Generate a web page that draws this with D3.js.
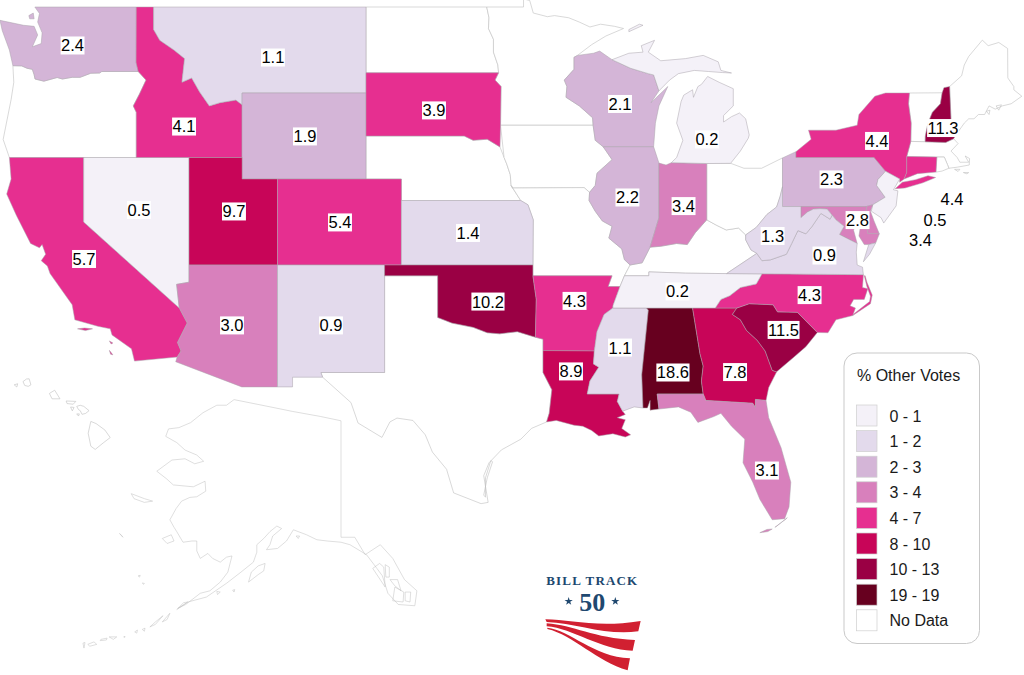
<!DOCTYPE html>
<html><head><meta charset="utf-8">
<script src="https://cdn.jsdelivr.net/npm/d3@7"></script>
<style>html,body{margin:0;padding:0;background:#fff}svg{display:block}text{font-family:"Liberation Sans",Arial,sans-serif}</style>
</head><body><svg id="c" width="1024" height="675"></svg>
<script>
// ---------- Values ----------
const stateCodes = ["WA","MT","ID","WY","SD","CA","NV","UT","CO","KS","AZ","NM","OK","AR","WI","IL","IN","MI","NY","PA","WV","VA","MD","NC","SC","TN","LA","MS","AL","GA","FL","NH","CT","NJ","DE"];
const stateValues = [2.4,1.1,4.1,1.9,3.9,5.7,0.5,9.7,5.4,1.4,3.0,0.9,10.2,4.3,2.1,2.2,3.4,0.2,4.4,2.3,1.3,0.9,2.8,4.3,11.5,0.2,8.9,1.1,18.6,7.8,3.1,11.3,4.4,0.5,3.4];
const labelLon = [-120.63,-109.31,-114.33,-107.5,-100.21,-119.98,-116.88,-111.51,-105.52,-98.29,-111.62,-106.03,-97.16,-92.27,-89.7,-89.28,-86.11,-84.79,-75.18,-77.75,-81.08,-78.15,-76.28,-78.99,-80.46,-86.45,-92.47,-89.7,-86.71,-83.2,-81.4,-71.45,-70.94,-71.9,-72.72];
const labelLat = [47.21,46.65,43.44,42.98,44.19,37.28,39.56,39.49,38.98,38.49,34.19,34.19,35.30,35.33,44.49,40.14,39.74,42.84,42.77,40.98,38.35,37.44,39.09,35.60,33.98,35.77,32.05,33.16,32.0,32.02,27.44,43.37,40.05,39.07,38.16];
const classBreaks = [0.75,1.75,2.75,3.75,7.5,10,15];
const classColors = ["#f4f1f8","#e3daec","#d4b5d7","#d880bc","#e62f90","#c80558","#9a0044","#67001f"];
const legendLabels = ["0 - 1","1 - 2","2 - 3","3 - 4","4 - 7","8 - 10","10 - 13","19 - 19","No Data"];
const legendColors = [...classColors,"#ffffff"];
const legendTitle = "% Other Votes";

// ---------- Shared borders (lon, lat) ----------
const r = a => [...a].reverse();
const columbia=[[-124,46.27],[-123.5,46.26],[-123.2,46.15],[-122.9,46.1],[-122.8,45.85],[-122.75,45.65],[-122.25,45.55],[-121.5,45.72],[-121.2,45.65],[-120.65,45.73],[-120.2,45.73],[-119.6,45.92],[-119.1,45.93],[-118.98,46],[-116.92,46]];
const snake=[[-116.92,46],[-116.48,45.6],[-116.85,44.95],[-117.2,44.4],[-117.03,44.1],[-117.03,42]];
const idMt=[[-116.05,49],[-116.05,47.95],[-115.7,47.45],[-114.9,47],[-114.3,46.6],[-114.45,45.5],[-113.9,45.7],[-113.45,45.05],[-112.9,44.4],[-112.3,44.55],[-111.4,44.67],[-111.05,44.45]];
const sdNe=[[-104.05,43],[-98.5,43],[-98,42.8],[-97.2,42.85],[-96.48,42.49]];
const neIa=[[-96.48,42.49],[-96.25,42],[-96.1,41.7],[-95.9,41.2],[-95.85,40.7],[-95.77,40.58]];
const sdMn=[[-96.56,45.94],[-96.76,45.6],[-96.42,45.3],[-96.45,43.5],[-96.48,42.49]];
const mnWi=[[-92.1,46.75],[-92.3,46.66],[-92.3,46.1],[-92.85,45.6],[-92.7,45.3],[-92.75,44.8],[-92,44.4],[-91.25,43.85],[-91.22,43.5]];
const wiIa=[[-91.22,43.5],[-91.1,42.8],[-90.65,42.5]];
const ilIa=[[-90.65,42.5],[-90.15,41.9],[-91,41.27],[-91.1,40.7],[-91.42,40.38]];
const ilMo=[[-91.42,40.38],[-91.45,40],[-91.1,39.5],[-90.7,39.05],[-90.15,38.8],[-90.33,38.25],[-89.6,37.75],[-89.45,37.25],[-89.13,37]];
const ilKy=[[-88,37.83],[-88.45,37.1],[-89.13,37]];
const inKy=[[-84.8,39.1],[-85.45,38.5],[-85.9,37.95],[-86.5,38],[-87.4,37.87],[-88,37.83]];
const ohKy=[[-82.6,38.4],[-83,38.72],[-83.7,38.63],[-84.25,38.85],[-84.8,39.1]];
const ohWv=[[-80.52,40.64],[-80.65,40.2],[-80.85,39.7],[-81.4,39.35],[-81.75,39],[-82,38.75],[-82.6,38.4]];
const wvKy=[[-82.6,38.4],[-82.6,38.17],[-82.3,37.7],[-81.97,37.54]];
const wvVa=[[-81.97,37.54],[-81.68,37.2],[-81.2,37.24],[-80.3,37.5],[-80,38],[-79.65,38.6],[-79.2,38.45],[-78.87,38.77],[-78.35,39.4],[-77.83,39.13],[-77.72,39.32]];
const wvMd=[[-77.72,39.32],[-78,39.6],[-78.4,39.62],[-78.77,39.6],[-79.1,39.47],[-79.48,39.2],[-79.48,39.72]];
const vaMd=[[-76.3,38.0],[-76.9,38.25],[-77.3,38.42],[-77.04,38.8],[-77.5,39.1],[-77.72,39.32]];
const paNj=[[-75.35,42],[-74.7,41.36],[-75.13,40.97],[-75.2,40.7],[-74.72,40.15],[-75.42,39.8]];
const kyTn=[[-89.45,36.5],[-88.07,36.5],[-88.07,36.68],[-86,36.62],[-83.68,36.6]];
const tnNc=[[-84.32,35],[-84,35.4],[-83.5,35.57],[-82.9,35.95],[-82,36.12],[-81.68,36.59]];
const ms1=[[-89.45,36.5],[-89.7,36],[-90.1,35.1],[-90.1,35]];
const arMs=[[-90.1,35],[-90.6,34.7],[-91,33.9],[-91.15,33]];
const laMs=[[-91.15,33],[-91.2,32.4],[-90.9,32.25],[-91.4,31.6],[-91.55,31]];
const msAl=[[-88.2,35],[-88.1,34.9],[-88.47,31.9],[-88.4,30.35]];
const alGa=[[-85.6,35],[-85.18,32.87],[-85,32.3],[-85.1,31.6],[-85,31]];
const gaFl=[[-85,31],[-84.85,30.7],[-82.2,30.57],[-82.05,30.37],[-82.05,30.75],[-81.45,30.7]];
const gaSc=[[-83.1,35],[-83.35,34.7],[-82.9,34.45],[-82.55,33.95],[-81.95,33.5],[-81.5,33],[-81.1,32.1],[-80.85,32.03]];
const scNc=[[-83.1,35],[-82.4,35.2],[-81.05,35.15],[-80.8,34.82],[-79.68,34.8],[-78.55,33.86]];
const okTx=[[-100,34.56],[-99.2,34.3],[-98,34.1],[-97.2,33.85],[-96.5,33.8],[-95.5,33.9],[-94.48,33.64]];
const txLa=[[-94.05,33.02],[-94.05,32],[-93.55,31.2],[-93.7,30.1],[-93.85,29.7]];
const vtNh=[[-71.5,45.01],[-71.6,44.5],[-72.05,44.1],[-72.3,43.6],[-72.45,43],[-72.46,42.73]];
const nyVt=[[-73.35,45],[-73.4,44.5],[-73.25,43.6],[-73.27,42.75]];
const nyCt=[[-73.5,42.05],[-73.5,41.3],[-73.65,41]];
const nyMa=[[-73.27,42.75],[-73.5,42.05]];
const meNh=[[-71.08,45.3],[-70.98,43.4],[-70.7,43.07]];

// ---------- Outlines (lon, lat) ----------
const WA=[[[-122.76,49],[-122.5,48.7],[-122.6,48.3],[-122.35,47.8],[-122.4,47.3],[-122.9,47.15],[-122.6,47.7],[-122.8,48.1],[-123.4,48.15],[-124.73,48.38],[-124.6,47.9],[-124.2,47],...columbia,[-117.04,46.42],[-117.03,49]],[[-123.1,48.6],[-122.85,48.72],[-122.8,48.45],[-123.05,48.45]]];
const OR=[[[-124.2,42],[-120,42],[-117.03,42],...r(snake),...r(columbia),[-123.95,45.5],[-124.1,44.7],[-124.55,42.84]]];
const CA=[[[-124.2,42],[-120,42],[-120,39],[-114.6,35],[-114.15,34.3],[-114.7,33.4],[-114.5,33],[-114.72,32.72],[-117.13,32.53],[-117.3,33.1],[-118.4,33.75],[-118.5,34.03],[-119.2,34.15],[-120.5,34.45],[-120.65,35.15],[-121.9,36.6],[-122.05,36.95],[-122.4,37.2],[-122.15,37.5],[-122.35,37.95],[-122.5,37.8],[-123,38],[-123.8,39.3],[-124.35,40.3],[-124.1,41]],[[-120.35,34.03],[-119.95,34.07],[-119.5,34.03],[-119.9,33.95]],[[-118.55,33.47],[-118.35,33.37],[-118.45,33.33]],[[-118.55,33.03],[-118.35,32.82],[-118.48,32.85]]];
const NV=[[[-120,42],[-114.05,42],[-114.05,36.2],[-114.75,36.1],[-114.6,35],[-120,39]]];
const ID=[[[-117.03,49],[-116.05,49],...idMt.slice(1),[-111.05,42],[-117.03,42],...r(snake),[-117.04,46.42]]];
const MT=[[...idMt,[-111.05,45],[-104.05,45],[-104.05,49]]];
const WY=[[[-111.05,45],[-104.05,45],[-104.05,41],[-111.05,41]]];
const UT=[[[-114.05,42],[-111.05,42],[-111.05,41],[-109.05,41],[-109.05,37],[-114.05,37]]];
const CO=[[[-109.05,41],[-102.05,41],[-102.05,37],[-109.05,37]]];
const AZ=[[[-114.05,37],[-109.05,37],[-109.05,31.33],[-111.07,31.33],[-114.8,32.5],[-114.72,32.72],[-114.5,33],[-114.7,33.4],[-114.15,34.3],[-114.6,35],[-114.75,36.1],[-114.05,36.2]]];
const NM=[[[-109.05,37],[-103,37],[-103,32],[-106.6,32],[-106.5,31.78],[-108.2,31.78],[-108.2,31.33],[-109.05,31.33]]];
const ND=[[[-104.05,49],[-97.23,49],[-97.1,48.5],[-97.13,48],[-96.85,47.5],[-96.85,46.9],[-96.6,46.3],[-96.56,45.94],[-104.05,45.94]]];
const SD=[[[-104.05,45.94],[-96.56,45.94],...sdMn.slice(1),...r(sdNe).slice(1)]];
const NE=[[...sdNe,...neIa.slice(1),[-95.31,40],[-102.05,40],[-102.05,41],[-104.05,41]]];
const KS=[[[-102.05,40],[-95.31,40],[-94.9,39.8],[-94.6,39.1],[-94.62,37],[-102.05,37]]];
const OK=[[[-103,37],[-94.62,37],[-94.62,36.5],[-94.43,35.4],...r(okTx),[-100,36.5],[-103,36.5]]];
const TX=[[[-103,36.5],[-100,36.5],...okTx,[-94.05,33.55],...txLa,[-94.7,29.4],[-95.3,28.9],[-96.4,28.4],[-97.1,27.8],[-97.4,27.2],[-97.15,25.96],[-97.55,25.9],[-99.1,26.4],[-99.5,27.5],[-100.3,28.3],[-100.7,29.1],[-101.4,29.77],[-102.3,29.88],[-102.7,29.7],[-103.15,28.98],[-104.5,29.65],[-104.9,30.6],[-106.5,31.78],[-106.6,32],[-103,32]],[[-97.4,26.3],[-97.2,27.1],[-96.9,27.85],[-97,27.9],[-97.3,27.1],[-97.3,26.2]]];
const MN=[[[-97.23,49],[-95.15,49],[-95.15,49.38],[-94.8,49.3],[-94.6,48.72],[-93.8,48.55],[-93.4,48.6],[-92.6,48.5],[-92,48.3],[-91.4,48.07],[-90.8,48.2],[-90,48.1],[-89.5,48],[-90.5,47.65],[-91.3,47.25],...mnWi,[-96.45,43.5],[-96.42,45.3],[-96.76,45.6],[-96.56,45.94],[-96.6,46.3],[-96.85,46.9],[-96.85,47.5],[-97.13,48],[-97.1,48.5]]];
const IA=[[[-96.45,43.5],...wiIa,...ilIa.slice(1),[-91.73,40.6],...r(neIa).slice(0,-1)]];
const MO=[[...r(neIa).slice(0,1),[-91.73,40.6],...ilMo,...ms1.slice(0,2),[-90.37,36],[-90.15,36.5],[-94.62,36.5],[-94.62,37],[-94.6,39.1],[-94.9,39.8],[-95.31,40],[-95.85,40.7]]];
const AR=[[[-94.62,36.5],[-90.15,36.5],[-90.37,36],[-89.7,36],...ms1.slice(2),...arMs.slice(1),[-94.05,33.02],[-94.05,33.55],[-94.48,33.64],[-94.43,35.4]]];
const LA=[[...txLa,[-93.3,29.77],[-92.3,29.55],[-91.8,29.5],[-91.3,29.3],[-90.9,29.05],[-90.1,29.15],[-89.4,29],[-89.1,29.1],[-89.6,29.4],[-89.4,29.8],[-89.85,29.9],[-89.4,30.05],[-89.55,30.2],[-89.85,30.65],[-89.75,31],...r(laMs)]];
const MS=[[...arMs,...laMs.slice(1),[-89.75,31],[-89.85,30.65],[-89.55,30.2],[-88.9,30.4],[-88.4,30.35],...r(msAl)]];
const AL=[[...msAl,[-88.15,30.35],[-88,30.7],[-88,30.25],[-87.5,30.3],[-87.6,31],...r(alGa)]];
const GA=[[...alGa,...gaFl.slice(1),[-81.3,31.3],...r(gaSc)]];
const FL=[[[-87.6,31],...gaFl,[-81.3,29.9],[-80.6,28.5],[-80.05,26.9],[-80.15,25.75],[-80.4,25.2],[-81.1,25.15],[-81.8,26.1],[-82.2,26.9],[-82.75,27.8],[-82.65,28.9],[-83.4,29.5],[-84,30.1],[-84.4,29.95],[-85.3,29.68],[-85.7,30.15],[-86.4,30.4],[-87.5,30.3]],[[-81.8,24.55],[-81.4,24.7],[-81.1,24.72],[-81.35,24.6]],[[-80.95,24.8],[-80.3,25.2],[-80.25,25.25],[-80.85,24.85]]];
const SC=[[...scNc,[-79.2,33.2],[-79.9,32.7],...r(gaSc)]];
const NC=[[[-84.32,35],...scNc,[-77.95,33.85],[-77.5,34.45],[-76.55,34.65],[-76.4,35],[-76.7,35.1],[-76.5,35.4],[-75.9,35.4],[-75.7,35.9],[-76,35.95],[-75.95,36.55],[-81.68,36.59],...r(tnNc).slice(1)],[[-76.55,34.65],[-75.55,35.2],[-75.45,35.6],[-75.75,36.2],[-75.85,36.5],[-75.9,36.5],[-75.75,36],[-75.55,35.55],[-75.6,35.3],[-76.5,34.72]]];
const TN=[[...ms1.slice(0,3),[-90.1,35],[-88.2,35],[-85.6,35],[-84.32,35],...tnNc.slice(1),[-83.68,36.6],[-86,36.62],[-88.07,36.68],[-88.07,36.5]]];
const KY=[[...kyTn,[-81.97,37.54],...r(wvKy).slice(1),...ohKy.slice(1),...inKy.slice(1),...ilKy.slice(1)]];
const WI=[[...mnWi,...wiIa.slice(1),[-87.8,42.5],[-87.7,43.6],[-87.5,44.4],[-87,45.3],[-87.95,44.55],[-87.5,45.1],[-87.8,45.84],[-88.1,45.9],[-89.1,46.15],[-90.15,46.55],[-90.85,46.95],[-91.2,46.85]]];
const IL=[[...ilIa,...ilMo.slice(1),...r(ilKy).slice(1),[-87.5,39.2],[-87.5,41.74],[-87.8,42.5]]];
const IN=[[[-87.5,41.74],[-87.1,41.65],[-86.8,41.76],[-84.8,41.72],...inKy,[-87.5,39.2]]];
const OH=[[[-84.8,41.72],[-83.45,41.73],[-82.7,41.5],[-81.7,41.5],[-80.52,41.98],...ohWv,...ohKy.slice(1)]];
const MI=[[[-86.8,41.76],[-84.8,41.72],[-83.45,41.73],[-82.9,42.3],[-82.45,42.9],[-82.4,43.05],[-82.6,43.8],[-82.95,44.07],[-83.4,43.9],[-83.85,43.65],[-83.85,43.95],[-83.3,44.4],[-83.3,45.2],[-84.1,45.5],[-84.75,45.77],[-85.1,45.4],[-85.3,45.3],[-85.55,44.8],[-85.6,45.15],[-86.1,44.9],[-86.25,44.6],[-86.5,43.6],[-86.15,42.8],[-86.5,42]],[[-90.15,46.55],[-89.1,46.15],[-88.1,45.9],[-87.8,45.84],[-87.5,45.1],[-86.9,45.6],[-86.4,45.9],[-85.5,46.05],[-84.7,46],[-83.9,45.95],[-83.4,45.93],[-84,46.05],[-84.15,46.45],[-85,46.75],[-86,46.6],[-87.4,46.5],[-88.1,46.9],[-87.75,47.45],[-88.5,47.2],[-88.4,46.9],[-89.2,46.85]],[[-89.2,47.85],[-88.4,48.15],[-88.6,48.2],[-89.2,47.95]]];
const PA=[[[-80.52,41.98],[-79.76,42.27],[-79.76,42],[-75.35,42],...paNj.slice(1),[-75.79,39.72],[-80.52,39.72]]];
const NY=[[[-79.76,42],[-79.76,42.27],[-78.9,42.85],[-79.05,43.27],[-77.5,43.27],[-76.3,43.5],[-76.2,44],[-75.3,44.85],[-74.7,45],...nyVt,...nyMa.slice(1),...nyCt.slice(1),[-73.9,40.85],[-73.9,41],[-74.7,41.36],[-75.35,42]],[[-74.15,40.55],[-73.75,40.85],[-73,40.97],[-72.3,41.15],[-71.87,41.07],[-72.6,40.82],[-73.6,40.58]]];
const NJ=[[[-74.7,41.36],[-73.9,41],[-74.25,40.5],[-74,40.45],[-74.1,39.75],[-74.8,38.95],[-74.95,39.2],[-75.5,39.5],...r(paNj).slice(0,5)]];
const DE=[[[-75.79,39.72],[-75.42,39.8],[-75.55,39.5],[-75.35,39.05],[-75.05,38.45],[-75.7,38.46]]];
const MD=[[[-79.48,39.72],[-75.79,39.72],[-75.7,38.46],[-75.05,38.45],[-75.25,38.03],[-75.65,37.95],[-75.9,37.95],[-76.2,38.35],[-76.1,38.9],[-76,39.4],[-76.4,39.2],[-76.5,38.6],[-76.35,38.15],...vaMd,...wvMd.slice(1)]];
const VA=[[[-83.68,36.6],[-81.68,36.59],[-75.95,36.55],[-76,36.9],[-76.3,37],[-76.35,37.6],...vaMd,...r(wvVa).slice(1)],[[-75.95,37.15],[-75.65,37.95],[-75.25,38.03],[-75.6,37.5]]];
const WV=[[...ohWv.slice(0,-1),...wvKy,...wvVa.slice(1),...wvMd.slice(1),[-80.52,39.72]]];
const VT=[[...nyVt,...r(vtNh),[-73.35,45]]];
const NH=[[...vtNh,[-71.3,42.7],[-70.85,42.87],...r(meNh),[-71.4,45.25]]];
const ME=[[...meNh,[-70.25,43.6],[-70,43.8],[-69.7,43.8],[-69.45,44],[-69.1,44],[-68.85,44.4],[-68.5,44.25],[-68.1,44.4],[-67.6,44.5],[-67,44.85],[-67.45,45.15],[-67.45,45.3],[-67.79,45.7],[-67.8,47.07],[-68.3,47.35],[-68.9,47.2],[-69.23,47.46],[-70,46.7],[-70.25,46.3],[-70.4,45.8]],[[-68.45,44.4],[-68.15,44.45],[-68.3,44.2]],[[-69,44.15],[-68.8,44.2],[-68.85,44]]];
const MA=[[[-73.27,42.75],[-72.46,42.73],[-71.3,42.7],[-70.85,42.87],[-70.6,42.65],[-71,42.3],[-70.65,42],[-70.5,41.78],[-70,41.78],[-70.2,42.07],[-69.95,41.95],[-69.97,41.65],[-70.65,41.55],[-71.12,41.5],[-71.2,41.67],[-71.38,42.02],[-71.8,42.02],[-73.5,42.05]],[[-70.8,41.45],[-70.5,41.45],[-70.6,41.35]],[[-70.3,41.3],[-70,41.3],[-70.1,41.24]]];
const RI=[[[-71.8,42.02],[-71.38,42.02],[-71.2,41.67],[-71.12,41.5],[-71.5,41.37],[-71.85,41.32]]];
const CT=[[[-73.5,42.05],[-71.8,42.02],[-71.85,41.32],[-72.9,41.25],...r(nyCt).slice(0,-1)]];
const AK=[[[-141,69.65],[-144,70],[-148,70.4],[-152,70.85],[-156.5,71.35],[-157.6,70.9],[-159,70.9],[-161,70.3],[-162.8,69.5],[-164.5,69.1],[-166,69],[-166.4,68.4],[-164.8,67.9],[-163.6,67.3],[-161.9,66.9],[-160.9,66.4],[-162.2,66.2],[-163.6,66.6],[-165.5,66.5],[-167.7,65.6],[-166.3,65],[-165.3,64.5],[-162.4,64.35],[-160.7,64.8],[-160.6,64],[-161.9,63.55],[-162.9,63.5],[-164.1,63.2],[-164.9,62.6],[-165.8,61.7],[-165.2,61.1],[-164.8,60.75],[-163.9,59.9],[-162.6,60],[-161.9,60],[-161.9,59.2],[-161.4,58.6],[-160.3,59],[-159.6,58.6],[-158.5,58.3],[-157.6,58.7],[-156.8,58.8],[-157.4,57.5],[-158.5,56.7],[-160,56],[-161.4,55.8],[-163.5,54.9],[-164.6,54.6],[-163.2,55.1],[-160.5,55.5],[-157.6,56.6],[-155.5,57.5],[-153.7,58.3],[-153.2,59.1],[-153.2,59.7],[-152.2,60.2],[-151.3,60.75],[-150.3,61.2],[-149.6,61],[-150.9,60.4],[-151.3,59.7],[-151.8,59.3],[-150.2,59.4],[-148.9,60],[-147.9,60.9],[-146,60.5],[-144.5,60.1],[-143,60],[-141,59.9],[-139.7,59.7],[-137.3,58.9],[-135.8,57.8],[-135,57.2],[-134.2,55.8],[-132.7,54.9],[-130.3,54.8],[-130,56],[-131.8,56.9],[-133.5,58.6],[-135.3,59.7],[-137.5,58.9],[-139,60.3],[-141,60.3]],
[[-171.4,63.8],[-169.5,63.4],[-168.3,63.2],[-169.5,63.1],[-171,63.4]],[[-166.9,60.2],[-165.6,60.5],[-165.2,60],[-166.2,59.8]],[[-173.1,60.6],[-172.6,60.3],[-172.8,60.45]],[[-154.4,56.7],[-153,57.3],[-152.2,57.6],[-152,58.2],[-153,58],[-154,57.5]],[[-136.4,57.8],[-135.4,58.2],[-134.8,57.9],[-134.6,56.3],[-135.2,56.8]],[[-133.5,55.2],[-132,55.1],[-131.9,55.9],[-133.2,56.3]],[[-134.6,58.1],[-134,57.9],[-134,57.1],[-134.5,57.1]],[[-133.9,56.9],[-132.8,56.9],[-132.3,56],[-133.2,56.4]],[[-131.7,55.9],[-130.9,55.9],[-131,55.1],[-131.7,55.2]],[[-147.5,60.4],[-147,60.4],[-147.2,60.2]],
[[-178.4,51.8],[-178.1,51.85],[-178.25,51.4]],[[-177.7,51.7],[-176.8,51.9],[-176.4,51.7],[-177.4,51.55]],[[-175.9,52],[-175,52.05],[-174.9,52.2],[-175.8,52.1]],[[-174.6,52.3],[-173.5,52.3],[-174,52.1]],[[-172.5,52.3],[-172.3,52.35],[-172.35,52.25]],[[-170.9,52.7],[-170.5,52.85],[-170.6,52.6]],[[-169.8,52.9],[-169.4,53],[-169.5,52.75]],[[-168.7,53.1],[-167.9,53.5],[-166.8,54],[-167.9,53.3]],[[-166.9,53.5],[-165.8,54.2],[-166.2,53.7]],[[-163.8,55.05],[-163.2,55.1],[-164.8,54.5]],[[-170.4,57.2],[-170.1,57.25],[-170.2,57.1]],[[-169.8,56.62],[-169.5,56.6],[-169.6,56.52]],[[-156.7,56.05],[-156.4,56.1],[-156.5,55.9]],[[-159,55.95],[-158.5,55.9],[-158.9,55.7]]];
const HI=[[[-155.9,20.25],[-155.6,20.15],[-155.1,19.85],[-154.8,19.5],[-155.2,19.25],[-155.65,18.95],[-155.9,19.1],[-156.05,19.7]],[[-156.7,20.95],[-156.5,21],[-156.3,20.95],[-156,20.75],[-156.2,20.62],[-156.4,20.58],[-156.5,20.75],[-156.6,20.8]],[[-157.3,21.2],[-156.75,21.18],[-156.9,21.05],[-157.25,21.08]],[[-157.05,20.92],[-156.85,20.9],[-156.95,20.74]],[[-158.25,21.55],[-157.95,21.7],[-157.65,21.3],[-158.1,21.3]],[[-159.75,22.1],[-159.55,22.22],[-159.4,22.23],[-159.3,21.95],[-159.45,21.88],[-159.65,21.92]],[[-160.25,21.95],[-160.05,22],[-160.1,21.85]],[[-156.7,20.6],[-156.55,20.6],[-156.6,20.5]]];

const outlines = {WA,OR,CA,NV,ID,MT,WY,UT,CO,AZ,NM,ND,SD,NE,KS,OK,TX,MN,IA,MO,AR,LA,MS,AL,GA,FL,SC,NC,TN,KY,WI,IL,IN,OH,MI,PA,NY,NJ,DE,MD,VA,WV,VT,NH,ME,MA,RI,CT};

// ---------- Scales: the map is an unprojected lon/lat grid ----------
const lon = d3.scaleLinear().domain([-111,-104]).range([243,366.9]);
const lat = d3.scaleLinear().domain([37,41]).range([265,179]);
const akLon = d3.scaleLinear().domain([-141,-130]).range([341,416.9]);
const akLat = d3.scaleLinear().domain([71.4,54.7]).range([399,607]);
const hiLon = d3.scaleLinear().domain([-156.06,-154.8]).range([88,110.2]);
const hiLat = d3.scaleLinear().domain([20.27,18.9]).range([421,450.5]);
const color = d3.scaleThreshold().domain(classBreaks).range(classColors);

const gridPath = (fx,fy) => d3.geoPath(d3.geoTransform({point(x,y){this.stream.point(fx(x),fy(y));}}));
const mainPath = gridPath(lon,lat), akPath = gridPath(akLon,akLat), hiPath = gridPath(hiLon,hiLat);
const closeRing = a => [...a,a[0]];
const feature = (rings,props) => ({type:"Feature",properties:props,geometry:{type:"MultiPolygon",coordinates:rings.map(a=>[closeRing(a)])}});

const valueByCode = new Map(stateCodes.map((c,i)=>[c,stateValues[i]]));
const features = Object.entries(outlines).map(([code,rings])=>feature(rings,{code,value:valueByCode.get(code)}));
const svg = d3.select("#c");

const EMPTY_STROKE = "#bfbfbf", FILLED_STROKE = "#a8a3ab";

// empty states first, filled on top so their border wins
svg.append("g").selectAll("path").data(features.filter(f=>f.properties.value===undefined)).join("path")
  .attr("d",mainPath).attr("fill","#fff").attr("stroke",EMPTY_STROKE).attr("stroke-width",0.6).attr("stroke-linejoin","round");
svg.append("path").datum(feature(AK,{})).attr("d",akPath).attr("fill","#fff").attr("stroke",EMPTY_STROKE).attr("stroke-width",0.5).attr("stroke-linejoin","round");
svg.append("path").datum(feature(HI,{})).attr("d",hiPath).attr("fill","#fff").attr("stroke",EMPTY_STROKE).attr("stroke-width",0.6).attr("stroke-linejoin","round");
svg.append("g").selectAll("path").data(features.filter(f=>f.properties.value!==undefined)).join("path")
  .attr("d",mainPath).attr("fill",d=>color(d.properties.value)).attr("stroke",FILLED_STROKE).attr("stroke-width",0.5).attr("stroke-linejoin","round");

// value labels
const labels = svg.append("g").selectAll("g").data(stateCodes).join("g")
  .attr("transform",(d,i)=>`translate(${lon(labelLon[i])},${lat(labelLat[i])})`);
labels.each(function(d,i){
  const g = d3.select(this);
  const t = g.append("text").attr("text-anchor","middle").attr("dy","0.36em").attr("font-size",16.5).attr("fill","#000").text(stateValues[i].toFixed(1));
  const w = t.node().getComputedTextLength();
  g.insert("rect","text").attr("x",-w/2-0.5).attr("y",-9).attr("width",w+1).attr("height",18).attr("fill","#fff");
});

// legend
const legend = svg.append("g");
legend.append("rect").attr("x",844).attr("y",353).attr("width",135.5).attr("height",290.5).attr("rx",13).attr("fill","#fff").attr("stroke","#c9c9c9").attr("stroke-width",1);
legend.append("text").attr("x",857).attr("y",381).attr("font-size",16).attr("fill","#1a1a1a").text(legendTitle);
const ly = d3.scaleBand().domain(legendLabels).range([405,405+25.6*legendLabels.length]);
const rows = legend.append("g").selectAll("g").data(legendLabels).join("g").attr("transform",d=>`translate(0,${ly(d)})`);
rows.append("rect").attr("x",856.5).attr("y",0).attr("width",20.5).attr("height",21).attr("fill",(d,i)=>legendColors[i]).attr("stroke","#cfcfcf").attr("stroke-width",0.7);
rows.append("text").attr("x",889.5).attr("y",16.5).attr("font-size",16).attr("fill","#1a1a1a").text(d=>d);

// Bill Track 50 logo
const logo = svg.append("g").attr("transform","translate(530,560) scale(0.3333)");
logo.append("text").attr("x",187).attr("y",74).attr("text-anchor","middle").attr("font-size",39).attr("font-weight",700).attr("letter-spacing",3.6).attr("fill","#20486f").style("font-family",'"Liberation Serif",serif').text("BILL TRACK");
logo.append("text").attr("x",187).attr("y",153).attr("text-anchor","middle").attr("font-size",78).attr("font-weight",700).attr("fill","#20486f").style("font-family",'"Liberation Serif",serif').text("50");
const star = d3.symbol().type(d3.symbolStar).size(190)();
logo.selectAll("path.star").data([116,256]).join("path").attr("class","star").attr("d",star).attr("transform",x=>`translate(${x},124)`).attr("fill","#20486f");
const swooshes = ["M46 178C120 178 200 205 332 183L325 214C230 228 140 190 50 186Z","M50 190C130 195 190 235 315 240L308 272C210 270 130 205 50 199Z","M52 203C120 210 190 290 300 295L293 331C200 305 130 225 52 207Z"];
logo.selectAll("path.sw").data(swooshes).join("path").attr("class","sw").attr("d",d=>d).attr("fill","#d12031");
</script></body></html>
